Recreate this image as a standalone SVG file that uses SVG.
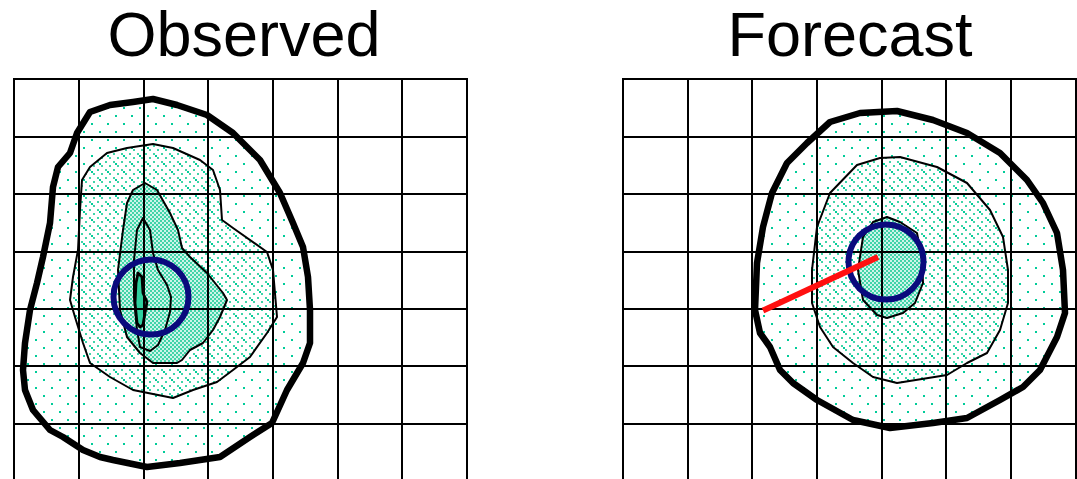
<svg xmlns="http://www.w3.org/2000/svg" width="1077" height="479" viewBox="0 0 1077 479">
<style>
.title{font-family:"Liberation Sans",Arial,sans-serif;font-size:63px;fill:#000;text-anchor:middle}
.grid line{stroke:#000;stroke-width:2}
.c-thick{fill:none;stroke:#000;stroke-width:6.5;stroke-linejoin:round}
.c-thin{fill:none;stroke:#000;stroke-width:2;stroke-linejoin:round}
.c-mid{fill:none;stroke:#000;stroke-width:2.8;stroke-linejoin:round}
.ring{fill:none;stroke:#0a0a7d;stroke-width:6}
.f-sparse{fill:url(#sparse);stroke:none}
.f-mid{fill:url(#mid);stroke:none}
.f-inner{fill:url(#inner);stroke:none}
.f-core{fill:#2fcf9e;stroke:none}
</style>
<defs>
<pattern id="sparse" width="16" height="16" patternUnits="userSpaceOnUse">
<rect x="3" y="3" width="2" height="2" fill="#00cc99"/>
<rect x="11" y="11" width="2" height="2" fill="#00cc99"/>
</pattern>
<pattern id="mid" width="8" height="8" patternUnits="userSpaceOnUse">
<rect x="1" y="1" width="2" height="2" fill="#3fd4a8"/>
<rect x="5" y="5" width="2" height="2" fill="#3fd4a8"/>
</pattern>
<pattern id="inner" width="4" height="4" patternUnits="userSpaceOnUse">
<rect width="4" height="4" fill="#cdf4e8"/>
<rect x="0" y="0" width="2" height="2" fill="#40d4a8"/>
<rect x="2" y="2" width="2" height="2" fill="#40d4a8"/>
</pattern>
</defs>
<rect width="1077" height="479" fill="#fff"/>

<g id="title-observed"><text class="title" x="244" y="56">Observed</text></g>
<g id="title-forecast"><text class="title" x="850" y="56">Forecast</text></g>

<g id="observed-fills">
<path class="f-sparse" d="M153,99 L177,105 L207,115 L233,133 L260,160 L280,193 L293,223 L303,247 L308,277 L310,310 L310,343 L303,363 L287,390 L272,423 L250,437 L220,457 L180,463 L147,467 L113,460 L100,457 L83,450 L63,437 L50,430 L33,410 L25,390 L23,370 L25,343 L30,310 L37,283 L43,257 L50,223 L53,187 L58,167 L70,153 L77,133 L90,112 L110,105 L133,102 Z"/>
<path class="f-mid" d="M153,144 L173,148 L200,160 L213,170 L220,190 L222,220 L233,228 L267,252 L273,270 L277,317 L267,333 L250,357 L233,370 L217,382 L193,390 L173,398 L133,390 L110,377 L90,363 L83,343 L75,317 L70,300 L73,277 L78,250 L80,210 L82,180 L90,167 L107,153 L127,148 Z"/>
<path class="f-inner" d="M145,183 L157,190 L170,213 L178,230 L182,248 L190,257 L207,273 L223,293 L227,300 L220,317 L213,330 L203,343 L190,350 L182,360 L177,363 L153,363 L140,353 L127,337 L120,310 L118,270 L123,230 L127,203 L133,190 Z"/>
<path class="f-inner" d="M143,218 L150,230 L153,253 L158,270 L167,285 L171,297 L170,312 L165,330 L158,345 L150,351 L140,347 L137,330 L134,297 L134,260 L137,230 Z"/>
<path class="f-core" d="M138,273 L142,277 L143,293 L147,302 L145,313 L143,325 L140,327 L137,323 L135,303 L136,283 Z"/>
</g>

<g id="forecast-fills">
<path class="f-sparse" d="M897,111 L933,120 L967,133 L1000,153 L1027,180 L1043,203 L1057,233 L1063,270 L1065,313 L1057,337 L1040,370 L1023,387 L1000,400 L967,418 L933,423 L890,428 L853,420 L817,400 L793,383 L780,370 L770,347 L760,333 L755,310 L757,263 L763,227 L772,193 L787,163 L807,143 L830,122 L860,113 Z"/>
<path class="f-mid" d="M900,157 L937,167 L967,183 L990,210 L1003,237 L1008,270 L1008,303 L1000,330 L987,353 L967,363 L947,375 L897,383 L873,377 L853,363 L833,347 L820,327 L812,303 L812,270 L817,227 L830,193 L857,165 L880,158 Z"/>
<path class="f-inner" d="M887,217 L900,222 L917,233 L922,260 L923,283 L915,303 L903,313 L887,318 L877,315 L863,300 L858,270 L863,237 L873,222 Z"/>
</g>

<g id="observed-grid" class="grid">
<line x1="14" y1="79" x2="14" y2="479"/><line x1="79" y1="79" x2="79" y2="479"/><line x1="144" y1="79" x2="144" y2="479"/><line x1="208" y1="79" x2="208" y2="479"/><line x1="273" y1="79" x2="273" y2="479"/><line x1="338" y1="79" x2="338" y2="479"/><line x1="402" y1="79" x2="402" y2="479"/><line x1="467" y1="79" x2="467" y2="479"/>
<line x1="13" y1="79" x2="468" y2="79"/><line x1="13" y1="137" x2="468" y2="137"/><line x1="13" y1="194" x2="468" y2="194"/><line x1="13" y1="252" x2="468" y2="252"/><line x1="13" y1="309" x2="468" y2="309"/><line x1="13" y1="366" x2="468" y2="366"/><line x1="13" y1="424" x2="468" y2="424"/>
</g>
<g id="forecast-grid" class="grid">
<line x1="623" y1="79" x2="623" y2="479"/><line x1="688" y1="79" x2="688" y2="479"/><line x1="752" y1="79" x2="752" y2="479"/><line x1="817" y1="79" x2="817" y2="479"/><line x1="882" y1="79" x2="882" y2="479"/><line x1="946" y1="79" x2="946" y2="479"/><line x1="1011" y1="79" x2="1011" y2="479"/><line x1="1076" y1="79" x2="1076" y2="479"/>
<line x1="622" y1="79" x2="1077" y2="79"/><line x1="622" y1="137" x2="1077" y2="137"/><line x1="622" y1="194" x2="1077" y2="194"/><line x1="622" y1="252" x2="1077" y2="252"/><line x1="622" y1="309" x2="1077" y2="309"/><line x1="622" y1="366" x2="1077" y2="366"/><line x1="622" y1="424" x2="1077" y2="424"/>
</g>

<g id="observed-contours">
<path class="c-thick" d="M153,99 L177,105 L207,115 L233,133 L260,160 L280,193 L293,223 L303,247 L308,277 L310,310 L310,343 L303,363 L287,390 L272,423 L250,437 L220,457 L180,463 L147,467 L113,460 L100,457 L83,450 L63,437 L50,430 L33,410 L25,390 L23,370 L25,343 L30,310 L37,283 L43,257 L50,223 L53,187 L58,167 L70,153 L77,133 L90,112 L110,105 L133,102 Z"/>
<path class="c-thin" d="M153,144 L173,148 L200,160 L213,170 L220,190 L222,220 L233,228 L267,252 L273,270 L277,317 L267,333 L250,357 L233,370 L217,382 L193,390 L173,398 L133,390 L110,377 L90,363 L83,343 L75,317 L70,300 L73,277 L78,250 L80,210 L82,180 L90,167 L107,153 L127,148 Z"/>
<path class="c-thin" d="M145,183 L157,190 L170,213 L178,230 L182,248 L190,257 L207,273 L223,293 L227,300 L220,317 L213,330 L203,343 L190,350 L182,360 L177,363 L153,363 L140,353 L127,337 L120,310 L118,270 L123,230 L127,203 L133,190 Z"/>
<path class="c-thin" d="M143,218 L150,230 L153,253 L158,270 L167,285 L171,297 L170,312 L165,330 L158,345 L150,351 L140,347 L137,330 L134,297 L134,260 L137,230 Z"/>
<path class="c-mid" d="M138,273 L142,277 L143,293 L147,302 L145,313 L143,325 L140,327 L137,323 L135,303 L136,283 Z"/>
</g>
<g id="forecast-contours">
<path class="c-thick" d="M897,111 L933,120 L967,133 L1000,153 L1027,180 L1043,203 L1057,233 L1063,270 L1065,313 L1057,337 L1040,370 L1023,387 L1000,400 L967,418 L933,423 L890,428 L853,420 L817,400 L793,383 L780,370 L770,347 L760,333 L755,310 L757,263 L763,227 L772,193 L787,163 L807,143 L830,122 L860,113 Z"/>
<path class="c-thin" d="M900,157 L937,167 L967,183 L990,210 L1003,237 L1008,270 L1008,303 L1000,330 L987,353 L967,363 L947,375 L897,383 L873,377 L853,363 L833,347 L820,327 L812,303 L812,270 L817,227 L830,193 L857,165 L880,158 Z"/>
<path class="c-thin" d="M887,217 L900,222 L917,233 L922,260 L923,283 L915,303 L903,313 L887,318 L877,315 L863,300 L858,270 L863,237 L873,222 Z"/>
</g>

<g id="observed-centroid"><circle class="ring" cx="151" cy="297" r="37.5"/></g>
<g id="forecast-centroid"><circle class="ring" cx="886" cy="262" r="37.5"/></g>
<g id="connectors"><line x1="763" y1="310.5" x2="878" y2="257" stroke="#ff1010" stroke-width="6"/></g>
</svg>
